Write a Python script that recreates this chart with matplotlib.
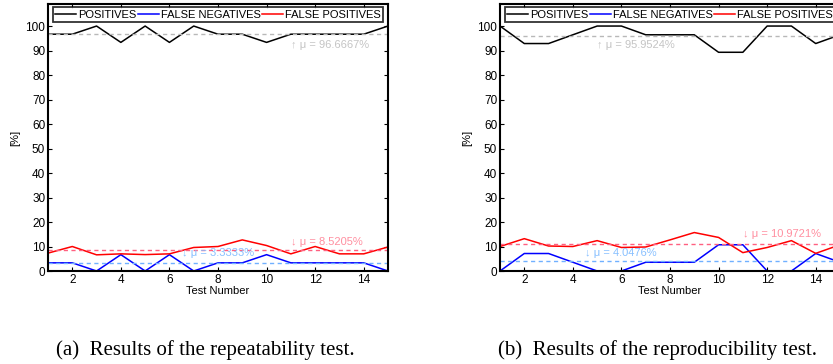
import matplotlib
matplotlib.use("Agg")
import matplotlib.pyplot as plt
import numpy as np

tests = np.arange(1, 16)

# (a) repeatability
rep_positives = [96.67, 96.67, 100, 93.33, 100, 93.33, 100, 96.67, 96.67, 93.33, 96.67, 96.67, 96.67, 96.67, 100]
rep_false_neg = [3.33, 3.33, 0, 6.67, 0, 6.67, 0, 3.33, 3.33, 6.67, 3.33, 3.33, 3.33, 3.33, 0]
rep_false_pos = [7.3, 10.0, 6.6, 7.0, 6.7, 7.0, 9.6, 10.0, 12.7, 10.4, 7.0, 10.0, 7.0, 7.0, 9.8]
rep_means = [96.6667, 3.3333, 8.5205]

# (b) reproducibility
repro_positives = [100, 92.86, 92.86, 96.43, 100, 100, 96.43, 96.43, 96.43, 89.29, 89.29, 100, 100, 92.86, 96.43]
repro_false_neg = [0, 7.14, 7.14, 3.57, 0, 0, 3.57, 3.57, 3.57, 10.71, 10.71, 0, 0, 7.14, 3.57]
repro_false_pos = [10.0, 13.2, 10.2, 10.0, 12.4, 9.6, 9.8, 12.7, 15.7, 13.7, 7.5, 9.6, 12.4, 7.2, 10.7]
repro_means = [95.9524, 4.0476, 10.9721]

series_labels = ["POSITIVES", "FALSE NEGATIVES", "FALSE POSITIVES"]
captions = ["(a)  Results of the repeatability test.", "(b)  Results of the reproducibility test."]
mean_labels_a = ["\u2191 \u03bc = 96.6667%", "\u2193 \u03bc = 3.3333%", "\u2193 \u03bc = 8.5205%"]
mean_labels_b = ["\u2191 \u03bc = 95.9524%", "\u2193 \u03bc = 4.0476%", "\u2193 \u03bc = 10.9721%"]

plt.rcParams['font.family'] = ['Liberation Sans', 'DejaVu Sans']

fig = plt.figure(figsize=(8.33, 3.64), dpi=100)

line_colors = ['black', '#0000ff', '#ff0000']
mean_colors = ['#b8b8b8', '#70b0ff', '#ff6080']
text_colors = ['#c4c4c4', '#88c0ff', '#ff8fa0']

def panel(ax, pos, fn, fp, means, labels, text_xy):
    for vals, c, lab in zip([pos, fn, fp], line_colors, series_labels):
        ax.plot(tests, vals, color=c, lw=1.1, label=lab)
    for m, c in zip(means, mean_colors):
        ax.axhline(m, color=c, lw=1.0, ls=(0, (3, 2.5)))
    for lab, (tx, ty), c in zip(labels, text_xy, text_colors):
        ax.text(tx, ty, lab, color=c, fontsize=8, va='center', ha='left')
    ax.set_xlim(1, 15)
    ax.set_ylim(0, 109)
    ax.set_xticks(range(2, 15, 2))
    ax.set_yticks(range(0, 101, 10))
    ax.tick_params(direction='in', top=True, right=True, labelsize=8.5, length=3, width=0.8, pad=2)
    for s in ax.spines.values():
        s.set_linewidth(1.5)
    ax.set_xlabel("Test Number", fontsize=8, labelpad=0)
    ax.set_ylabel("[%]", fontsize=8, labelpad=4)
    leg = ax.legend(ncol=3, loc='upper center', fontsize=8, frameon=True, fancybox=False,
                    handlelength=1.9, handletextpad=0.15, columnspacing=0.15,
                    borderpad=0.2, borderaxespad=0.3, bbox_to_anchor=(0.5, 1.0))
    leg.get_frame().set_edgecolor('black')
    leg.get_frame().set_linewidth(1.3)

ax1 = fig.add_axes([48/833, 93/364, 340/833, 267/364])
panel(ax1, rep_positives, rep_false_neg, rep_false_pos, rep_means, mean_labels_a,
      [(11.0, 92.2), (6.5, 7.5), (11.0, 12.0)])

ax2 = fig.add_axes([500/833, 93/364, 340/833, 267/364])
panel(ax2, repro_positives, repro_false_neg, repro_false_pos, repro_means, mean_labels_b,
      [(5.0, 92.2), (4.5, 7.3), (11.0, 15.2)])

fig.text(56/833, 1 - 355/364, captions[0], family='Liberation Serif', fontsize=15, va='baseline', ha='left')
fig.text(498/833, 1 - 355/364, captions[1], family='Liberation Serif', fontsize=15, va='baseline', ha='left')

fig.savefig("out.png", dpi=100)
